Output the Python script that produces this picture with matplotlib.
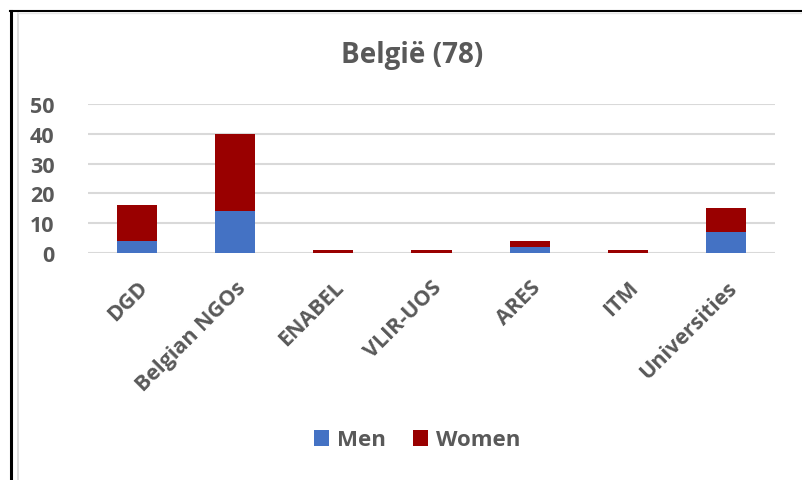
import matplotlib
matplotlib.use("Agg")
import matplotlib.pyplot as plt
from matplotlib.lines import Line2D
import numpy as np

categories = ["DGD", "Belgian NGOs", "ENABEL", "VLIR-UOS", "ARES", "ITM", "Universities"]
men = [4, 14, 0, 0, 2, 0, 7]
women = [12, 26, 1, 1, 2, 1, 8]
yticks = [0, 10, 20, 30, 40, 50]
title = "België (78)"

W, H = 803, 481
fig = plt.figure(figsize=(W / 100, H / 100), dpi=100)
plt.rcParams['font.family'] = ['Open Sans', 'DejaVu Sans']

gray = "#595959"
ax = fig.add_axes([88 / W, 1 - 254 / H, (775 - 88) / W, (254 - 105) / H])
x = np.arange(len(categories))
ax.bar(x, men, width=0.41, color="#4472C4", zorder=3, label="Men")
ax.bar(x, women, width=0.41, bottom=men, color="#990000", zorder=3, label="Women")
ax.set_xlim(-0.5, len(categories) - 0.5)
ax.set_ylim(0, 50)
ax.set_yticks(yticks)
ax.set_yticklabels([str(v) for v in yticks], fontsize=15.5, fontweight="bold", color=gray)
ax.set_xticks(x)
ax.set_xticklabels(categories, rotation=45, ha="right", rotation_mode="anchor",
                   fontsize=15.5, fontweight="bold", color=gray)
ax.tick_params(axis="both", length=0)
ax.tick_params(axis="y", pad=24)
ax.tick_params(axis="x", pad=17)
ax.grid(axis="y", color="#d9d9d9", linewidth=1.5, zorder=0)
for s in ax.spines.values():
    s.set_visible(False)

fig.text(412 / W, 1 - 55 / H, title, ha="center", va="center",
         fontsize=20, fontweight="bold", color=gray)

leg = fig.legend(loc="center", bbox_to_anchor=(417 / W, 1 - 441 / H), ncol=2,
                 frameon=False, prop={"size": 16, "weight": "bold"},
                 handlelength=0.7, handleheight=0.7, columnspacing=1.2, handletextpad=0.35)
for t in leg.get_texts():
    t.set_color(gray)

# frame lines
fig.add_artist(Line2D([11 / W, 11 / W], [0, 1 - 12 / H], color="black", linewidth=2.2,
                      transform=fig.transFigure))
fig.add_artist(Line2D([10 / W, 1], [1 - 12 / H, 1 - 12 / H], color="black", linewidth=1.5,
                      transform=fig.transFigure))
fig.add_artist(Line2D([18.5 / W, 18.5 / W], [0, 1 - 13.5 / H], color="#d9d9d9", linewidth=1.2,
                      transform=fig.transFigure))
fig.add_artist(Line2D([18.5 / W, 1], [1 - 13.5 / H, 1 - 13.5 / H], color="#e6e6e6", linewidth=1,
                      transform=fig.transFigure))

fig.savefig("out.png", dpi=100)
